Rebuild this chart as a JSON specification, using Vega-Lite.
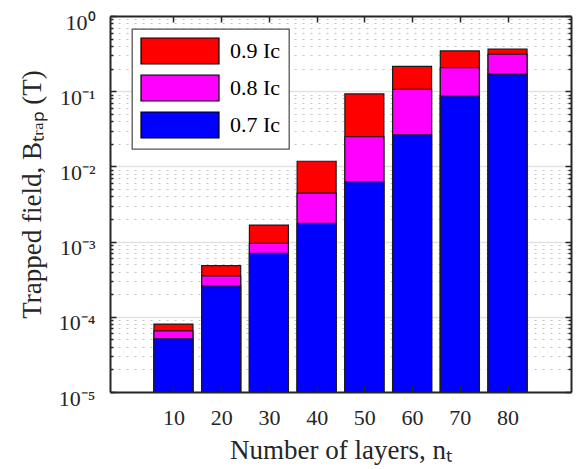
{
  "$schema": "https://vega.github.io/schema/vega-lite/v6.json",
  "width": 461,
  "height": 376,
  "autosize": "none",
  "padding": {"left": 110, "top": 16, "right": 8, "bottom": 77},
  "background": "white",
  "config": {
    "view": {"stroke": null},
    "font": "Liberation Serif",
    "legend": {"strokeWidth": 1.3}
  },
  "data": {
    "values": [
      {"n": 10, "level": "0.9 Ic", "B": 0.000080},
      {"n": 20, "level": "0.9 Ic", "B": 0.00048},
      {"n": 30, "level": "0.9 Ic", "B": 0.00166},
      {"n": 40, "level": "0.9 Ic", "B": 0.0117},
      {"n": 50, "level": "0.9 Ic", "B": 0.092},
      {"n": 60, "level": "0.9 Ic", "B": 0.214},
      {"n": 70, "level": "0.9 Ic", "B": 0.343},
      {"n": 80, "level": "0.9 Ic", "B": 0.364},
      {"n": 10, "level": "0.8 Ic", "B": 0.000065},
      {"n": 20, "level": "0.8 Ic", "B": 0.00035},
      {"n": 30, "level": "0.8 Ic", "B": 0.00095},
      {"n": 40, "level": "0.8 Ic", "B": 0.0044},
      {"n": 50, "level": "0.8 Ic", "B": 0.0248},
      {"n": 60, "level": "0.8 Ic", "B": 0.106},
      {"n": 70, "level": "0.8 Ic", "B": 0.205},
      {"n": 80, "level": "0.8 Ic", "B": 0.312},
      {"n": 10, "level": "0.7 Ic", "B": 0.000051},
      {"n": 20, "level": "0.7 Ic", "B": 0.000257},
      {"n": 30, "level": "0.7 Ic", "B": 0.00070},
      {"n": 40, "level": "0.7 Ic", "B": 0.00175},
      {"n": 50, "level": "0.7 Ic", "B": 0.00626},
      {"n": 60, "level": "0.7 Ic", "B": 0.0262},
      {"n": 70, "level": "0.7 Ic", "B": 0.0863},
      {"n": 80, "level": "0.7 Ic", "B": 0.169}
    ]
  },
  "resolve": {"axis": {"x": "independent", "y": "independent"}},
  "layer": [
    {
      "mark": {"type": "point", "opacity": 0},
      "encoding": {
        "x": {"field": "n", "type": "quantitative", "scale": {"domain": [-2.25, 92.25], "nice": false, "zero": false}, "axis": null},
        "y": {"field": "B", "type": "quantitative", "scale": {"type": "log", "domain": [0.00001, 1], "nice": false},
          "axis": {"orient": "left", "values": [0.00001,0.00002,0.00003,0.00004,0.00005,0.00006,0.00007,0.00008,0.00009,0.0001,0.0002,0.0003,0.0004,0.0005,0.0006,0.0007,0.0008,0.0009,0.001,0.002,0.003,0.004,0.005,0.006,0.007,0.008,0.009,0.01,0.02,0.03,0.04,0.05,0.06,0.07,0.08,0.09,0.1,0.2,0.3,0.4,0.5,0.6,0.7,0.8,0.9,1],
            "grid": true, "labels": false, "ticks": false, "domain": false, "title": null, "zindex": 0,
            "gridColor": {"condition": {"test": "abs(log(datum.value)/LN10 - round(log(datum.value)/LN10)) < 0.001", "value": "#e2e2e2"}, "value": "#c4c4c4"},
            "gridDash": {"condition": {"test": "abs(log(datum.value)/LN10 - round(log(datum.value)/LN10)) < 0.001", "value": []}, "value": [2, 6]},
            "gridWidth": {"condition": {"test": "abs(log(datum.value)/LN10 - round(log(datum.value)/LN10)) < 0.001", "value": 1.5}, "value": 1}
          }
        }
      }
    },
    {
      "mark": {"type": "bar", "width": 39, "stroke": "#1a1a1a", "strokeWidth": 1.2},
      "encoding": {
        "x": {"field": "n", "type": "quantitative", "scale": {"domain": [-2.25, 92.25], "nice": false, "zero": false},
          "axis": {"orient": "bottom", "values": [10, 20, 30, 40, 50, 60, 70, 80], "ticks": false, "grid": false, "domain": true,
            "domainColor": "#262626", "domainWidth": 2, "labelFont": "Liberation Serif", "labelFontSize": 22, "labelColor": "#262626",
            "labelPadding": 15, "title": "Number of layers, nₜ", "titleFont": "Liberation Serif", "titleFontSize": 27,
            "titleFontWeight": "normal", "titleColor": "#262626", "titlePadding": 9, "zindex": 1}},
        "y": {"field": "B", "type": "quantitative", "stack": null, "scale": {"type": "log", "domain": [0.00001, 1], "nice": false},
          "axis": {"orient": "left", "values": [0.00001, 0.0001, 0.001, 0.01, 0.1, 1], "ticks": false, "grid": false, "domain": true,
            "domainColor": "#262626", "domainWidth": 2, "labelFont": "Liberation Serif", "labelFontSize": 22, "labelColor": "#262626",
            "labelPadding": 15, "labelOffset": 6, "labelOverlap": false,
            "labelExpr": "['10⁰','10⁻¹','10⁻²','10⁻³','10⁻⁴','10⁻⁵'][-round(log(datum.value)/LN10)]",
            "title": "Trapped field, Bₜᵣₐₚ (T)", "titleFont": "Liberation Serif", "titleFontSize": 27,
            "titleFontWeight": "normal", "titleColor": "#262626", "titlePadding": 12, "titleY": 178, "zindex": 1}},
        "y2": {"datum": 0.00001},
        "color": {"field": "level", "type": "nominal",
          "scale": {"domain": ["0.9 Ic", "0.8 Ic", "0.7 Ic"], "range": ["#ff0000", "#ff00ff", "#0000ff"]},
          "legend": {"orient": "none", "legendX": 22, "legendY": 13, "title": null,
            "symbolType": "M-3,-1H3V1H-3Z", "symbolSize": 676, "symbolOffset": 26,
            "symbolStrokeColor": "#000000", "symbolStrokeWidth": 1.2, "symbolOpacity": 1,
            "labelFont": "Liberation Serif", "labelFontSize": 22, "labelColor": "#000000", "labelOffset": 36,
            "rowPadding": 5, "padding": 8, "strokeColor": "#555555", "fillColor": "#ffffff"}}
      }
    },
    {
      "mark": {"type": "point", "opacity": 0},
      "encoding": {
        "x": {"field": "n", "type": "quantitative", "scale": {"domain": [-2.25, 92.25], "nice": false, "zero": false},
          "axis": {"orient": "top", "values": [10, 20, 30, 40, 50, 60, 70, 80], "labels": false, "ticks": true, "tickSize": -6,
            "tickColor": "#262626", "tickWidth": 1.5, "domain": true, "domainColor": "#262626", "domainWidth": 2,
            "grid": false, "title": null, "zindex": 1}},
        "y": {"field": "B", "type": "quantitative", "scale": {"type": "log", "domain": [0.00001, 1], "nice": false},
          "axis": {"orient": "right", "values": [0.00001,0.00002,0.00003,0.00004,0.00005,0.00006,0.00007,0.00008,0.00009,0.0001,0.0002,0.0003,0.0004,0.0005,0.0006,0.0007,0.0008,0.0009,0.001,0.002,0.003,0.004,0.005,0.006,0.007,0.008,0.009,0.01,0.02,0.03,0.04,0.05,0.06,0.07,0.08,0.09,0.1,0.2,0.3,0.4,0.5,0.6,0.7,0.8,0.9,1],
            "labels": false, "ticks": true,
            "tickSize": {"condition": {"test": "abs(log(datum.value)/LN10 - round(log(datum.value)/LN10)) < 0.001", "value": -6}, "value": -3},
            "tickColor": "#262626", "tickWidth": 1.5, "domain": true, "domainColor": "#262626", "domainWidth": 2,
            "grid": false, "title": null, "zindex": 1}}
      }
    },
    {
      "mark": {"type": "point", "opacity": 0},
      "encoding": {
        "x": {"field": "n", "type": "quantitative", "scale": {"domain": [-2.25, 92.25], "nice": false, "zero": false},
          "axis": {"orient": "bottom", "values": [10, 20, 30, 40, 50, 60, 70, 80], "labels": false, "ticks": true, "tickSize": -6,
            "tickColor": "#262626", "tickWidth": 1.5, "domain": false, "grid": false, "title": null, "zindex": 1}},
        "y": {"field": "B", "type": "quantitative", "scale": {"type": "log", "domain": [0.00001, 1], "nice": false},
          "axis": {"orient": "left", "values": [0.00001,0.00002,0.00003,0.00004,0.00005,0.00006,0.00007,0.00008,0.00009,0.0001,0.0002,0.0003,0.0004,0.0005,0.0006,0.0007,0.0008,0.0009,0.001,0.002,0.003,0.004,0.005,0.006,0.007,0.008,0.009,0.01,0.02,0.03,0.04,0.05,0.06,0.07,0.08,0.09,0.1,0.2,0.3,0.4,0.5,0.6,0.7,0.8,0.9,1],
            "labels": false, "ticks": true,
            "tickSize": {"condition": {"test": "abs(log(datum.value)/LN10 - round(log(datum.value)/LN10)) < 0.001", "value": -6}, "value": -3},
            "tickColor": "#262626", "tickWidth": 1.5, "domain": false, "grid": false, "title": null, "zindex": 1}}
      }
    }
  ]
}
